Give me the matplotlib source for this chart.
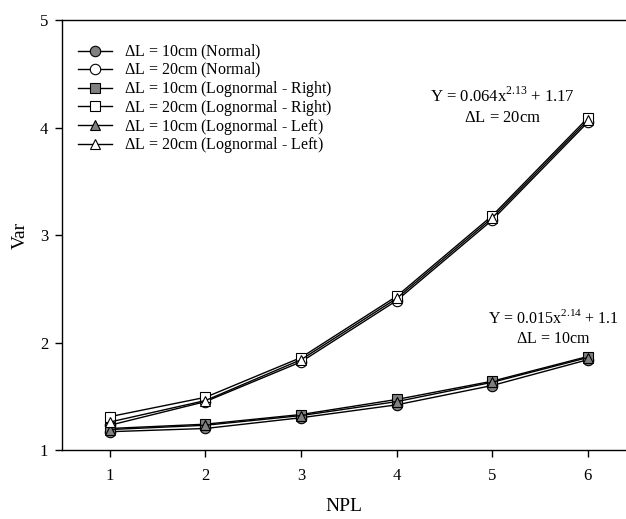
import numpy as np
import matplotlib
matplotlib.use("Agg")
import matplotlib.pyplot as plt

plt.rcParams['font.family'] = ['Liberation Serif', 'DejaVu Serif']
plt.rcParams['mathtext.fontset'] = 'custom'
plt.rcParams['mathtext.rm'] = 'Liberation Serif'

# NPL values and variances
npl = [1, 2, 3, 4, 5, 6]
normal_10 = [1.17, 1.20, 1.30, 1.42, 1.60, 1.84]
normal_20 = [1.23, 1.45, 1.82, 2.39, 3.14, 4.05]
logr_10 = [1.20, 1.24, 1.33, 1.47, 1.64, 1.87]
logr_20 = [1.31, 1.49, 1.86, 2.43, 3.18, 4.09]
logl_10 = [1.19, 1.23, 1.32, 1.45, 1.63, 1.86]
logl_20 = [1.26, 1.46, 1.84, 2.41, 3.16, 4.07]

gray = '#808080'
series = [
    (normal_10, 'o', gray, r'$\Delta$L = 10cm (Normal)'),
    (normal_20, 'o', 'white', r'$\Delta$L = 20cm (Normal)'),
    (logr_10, 's', gray, r'$\Delta$L = 10cm (Lognormal - Right)'),
    (logr_20, 's', 'white', r'$\Delta$L = 20cm (Lognormal - Right)'),
    (logl_10, '^', gray, r'$\Delta$L = 10cm (Lognormal - Left)'),
    (logl_20, '^', 'white', r'$\Delta$L = 20cm (Lognormal - Left)'),
]

fig = plt.figure(figsize=(6.26, 5.19), dpi=100)
ax = fig.add_axes([0.099, 0.133, 0.901, 0.828])

for vals, mk, fc, lab in series:
    ax.plot(npl, vals, color='black', lw=1.0, marker=mk, markersize=7.5,
            markerfacecolor=fc, markeredgecolor='black', markeredgewidth=0.8,
            label=lab)

ax.set_xlim(0.5, 6.4)
ax.set_ylim(1, 5)
ax.set_xticks(npl)
ax.set_yticks([1, 2, 3, 4, 5])
ax.tick_params(direction='out', length=5, width=1, labelsize=12)
ax.tick_params(axis='x', pad=8)
ax.tick_params(axis='y', pad=5)
ax.spines['right'].set_visible(False)
for s in ['left', 'top', 'bottom']:
    ax.spines[s].set_linewidth(1.0)

ax.set_xlabel('NPL', fontsize=14, labelpad=10)
ax.set_ylabel('Var', fontsize=14, labelpad=8)

ax.legend(loc='upper left', bbox_to_anchor=(0.003, 0.98), frameon=False,
          fontsize=11.5, handlelength=2.1, handletextpad=0.75, labelspacing=-0.08)

ax.text(5.11, 4.29, r'Y = 0.064x$^{2.13}$ + 1.17', ha='center', va='center', fontsize=12)
ax.text(5.11, 4.09, r'$\Delta$L = 20cm', ha='center', va='center', fontsize=12)
ax.text(5.64, 2.23, r'Y = 0.015x$^{2.14}$ + 1.1', ha='center', va='center', fontsize=11.5)
ax.text(5.64, 2.03, r'$\Delta$L = 10cm', ha='center', va='center', fontsize=11.5)

fig.savefig('out.png', dpi=100)
